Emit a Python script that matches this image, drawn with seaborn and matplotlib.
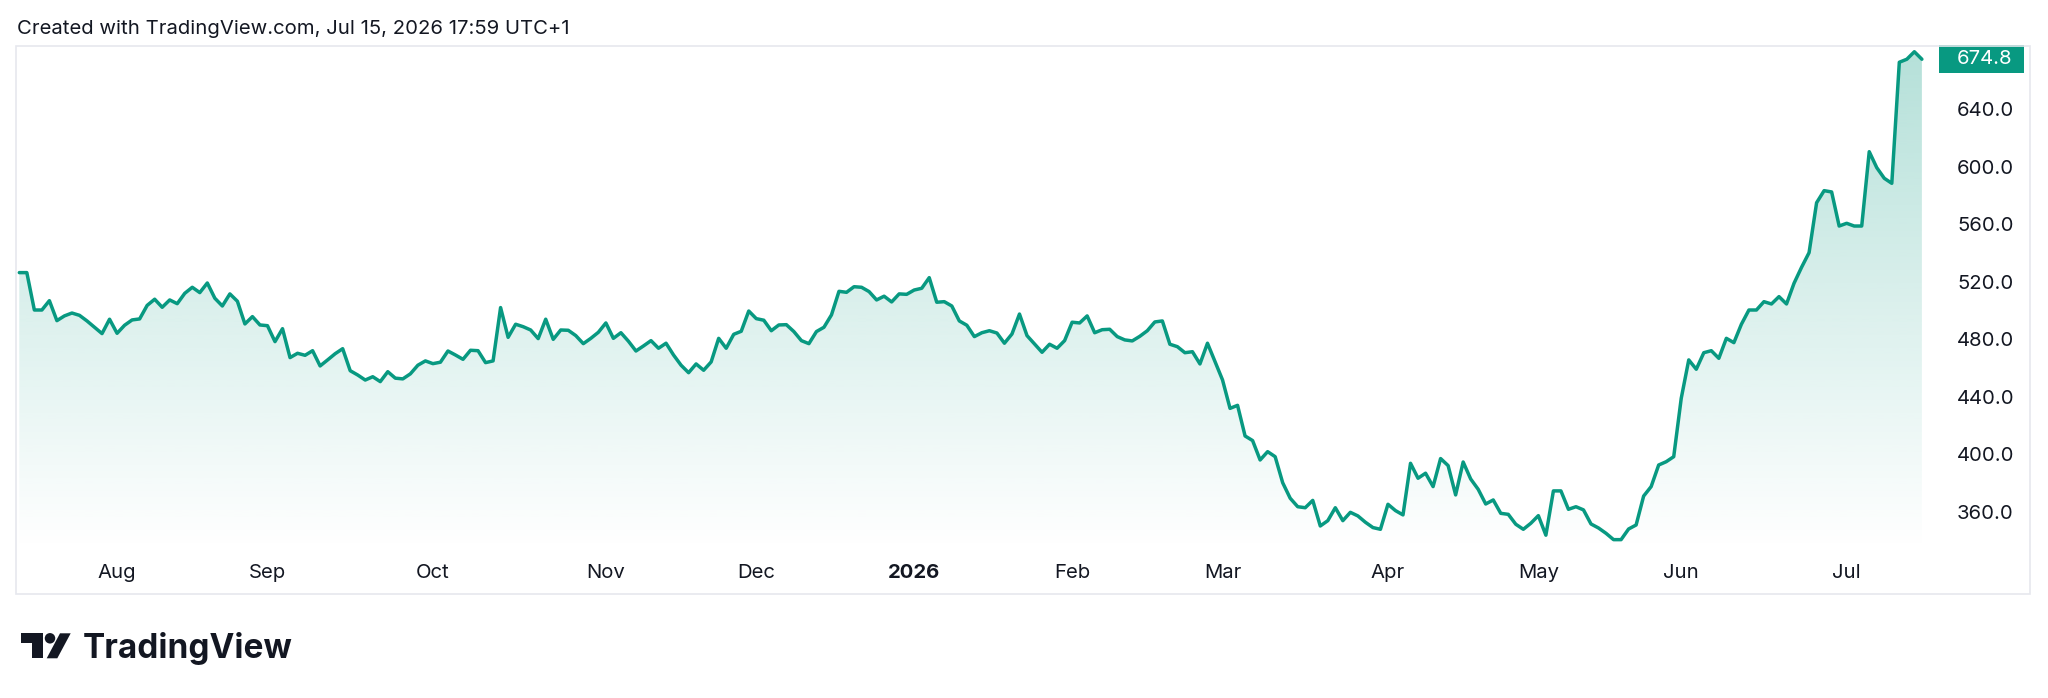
import numpy as np
import pandas as pd
import matplotlib
matplotlib.use("Agg")
import matplotlib.pyplot as plt
import matplotlib.transforms as mtransforms
from matplotlib.patches import Rectangle, Polygon
import seaborn as sns

# ---------------- data ----------------
start_date = "2025-07-15"
end_date = "2026-07-15"
market_holidays = ["2025-08-25", "2025-12-25", "2025-12-26", "2026-01-01",
                   "2026-04-03", "2026-04-06", "2026-05-04", "2026-05-25"]

close_jul_sep = [
    526.4, 526.4, 500.4, 500.4, 506.9, 493.0, 496.3, 498.3, 496.7, 492.8,
    488.4, 484.0, 494.0, 484.2, 489.8, 493.5, 494.2, 503.6, 507.9, 502.3,
    507.4, 504.8, 512.0, 516.2, 512.5, 519.2, 508.6, 503.2, 511.6, 506.5,
    490.7, 495.8, 490.0, 489.5, 478.4, 487.4, 467.3, 470.3, 468.9, 472.1,
    461.5, 465.7, 470.0, 473.5, 458.2, 455.2, 451.7, 454.0, 450.6, 457.5]
close_sep_dec = [
    453.0, 452.5, 456.0, 462.0,
    465.0, 463.1, 464.1, 471.9, 469.1, 466.1, 472.4, 472.1, 463.8, 465.0,
    502.1, 481.4, 490.5, 488.8, 486.5, 480.5, 494.0, 480.0, 486.5, 486.3,
    482.6, 477.0, 480.7, 484.9, 491.4, 480.7, 484.6, 478.7, 471.9, 475.4,
    479.1, 473.8, 477.3, 469.1, 462.0, 456.8, 462.9, 458.5, 464.3, 480.7,
    473.8, 483.5, 485.6, 499.7, 494.4, 493.3, 486.0, 490.0]
close_dec_feb = [
    490.2, 485.4, 479.1, 477.0, 485.4, 488.4, 497.0, 513.4, 512.7, 516.6,
    516.2, 513.2, 507.4, 510.0, 506.0, 511.6, 511.3, 514.3, 515.5, 522.9,
    505.8, 506.2, 503.2, 492.8, 489.8, 481.9, 484.6, 486.0, 484.4, 477.3,
    483.7, 497.6, 482.6, 476.8, 471.0, 476.6, 473.8, 479.1, 491.9, 491.4,
    496.3, 484.6, 486.7, 487.0, 481.9, 479.6, 478.9, 482.1, 486.0, 492.1]
close_feb_may = [
    492.8, 476.6, 474.9, 470.7, 471.4, 462.9, 477.3, 464.5, 451.8, 432.0,
    434.1, 412.8, 409.6, 396.1, 401.9, 398.4, 380.3, 369.5, 363.6, 362.9,
    368.0, 350.2, 353.9, 362.9, 353.9, 359.7, 357.2, 352.8, 349.1, 347.9,
    365.3, 360.9, 357.9, 393.8, 383.4, 386.9, 377.6, 397.1, 392.2, 371.8,
    394.7, 382.9, 375.7, 365.5, 368.3, 359.0, 358.3, 351.4, 347.9, 352.1,
    357.4, 343.8, 374.6, 374.6, 361.8, 363.6, 361.4, 351.6, 348.8, 345.1,
    340.7, 340.7]
close_may_jul = [
    348.1, 350.9, 371.0, 377.6, 392.6, 394.9, 398.4, 439.0, 465.7, 459.2,
    470.7, 472.1, 466.8, 480.7, 477.7, 490.5, 500.4, 500.4, 506.2, 504.6,
    509.7, 504.6, 519.0, 530.1, 540.3, 575.0, 583.4, 582.5, 558.8, 560.7,
    558.8, 558.8, 610.5, 599.4, 592.0, 588.5, 672.7, 674.8, 680.0, 674.8]

price_ticks = [360, 400, 440, 480, 520, 560, 600, 640]
header_text = "Created with TradingView.com, Jul 15, 2026 17:59 UTC+1"
brand_text = "TradingView"

# ---------------- build frame ----------------
close = np.array(close_jul_sep + close_sep_dec + close_dec_feb + close_feb_may + close_may_jul)
dates = pd.bdate_range(start_date, end_date)
dates = dates[~dates.isin(pd.to_datetime(market_holidays))]
n = len(close)
dates = dates[:n]
df = pd.DataFrame({"i": np.arange(n), "date": dates, "close": close})

month_start = df.index[df["date"].dt.month != df["date"].dt.month.shift(1)][1:]
month_labels = ["2026" if df.loc[k, "date"].month == 1 else df.loc[k, "date"].strftime("%b")
                for k in month_start]

# ---------------- style ----------------
sns.set_theme(style="white")
plt.rcParams["font.family"] = ["Inter", "DejaVu Sans"]

LINE = "#089981"
TXT = "#131722"
W, H = 2048, 698
pane_l, pane_t, pane_r, pane_b = 16, 46, 1930, 550
y_lo, y_hi = 333.5, 684.0

fig = plt.figure(figsize=(W / 100, H / 100), dpi=100)
fig.patch.set_facecolor("white")
ax = fig.add_axes([pane_l / W, 1 - pane_b / H, (pane_r - pane_l) / W, (pane_b - pane_t) / H])
ax.set_facecolor("white")

# gradient area under the line
verts = np.column_stack([np.r_[df["i"], df["i"][::-1]],
                         np.r_[df["close"], np.full(n, y_lo)]])
clip = Polygon(verts, closed=True, facecolor="none", edgecolor="none", transform=ax.transData)
ax.add_patch(clip)
rgb = matplotlib.colors.to_rgb(LINE)
grad = np.zeros((256, 1, 4))
grad[:, 0, :3] = rgb
grad[:, 0, 3] = np.linspace(0.0, 0.30, 256)
im = ax.imshow(grad, extent=[0, n - 1, y_lo, df["close"].max()], origin="lower",
               aspect="auto", zorder=1, interpolation="bilinear")
im.set_clip_path(clip)

sns.lineplot(data=df, x="i", y="close", ax=ax, color=LINE, linewidth=2.5, zorder=3)
ax.lines[-1].set_solid_joinstyle("round")

ax.set_xlim(-0.44, n - 1 + 1.08)
ax.set_ylim(y_lo, y_hi)
for s in ax.spines.values():
    s.set_visible(False)
ax.grid(False)
ax.set_xlabel("")
ax.set_ylabel("")

ax.yaxis.tick_right()
ax.set_yticks(price_ticks)
ax.set_yticklabels([f"{v:.1f}" for v in price_ticks])
ax.tick_params(axis="y", length=0, pad=19.4, labelsize=14.6, labelcolor=TXT)

ax.set_xticks(list(month_start))
ax.set_xticklabels(month_labels)
ax.tick_params(axis="x", length=0, pad=10, labelsize=14.6, labelcolor=TXT)
for lab in ax.get_xticklabels():
    if lab.get_text() == "2026":
        lab.set_fontweight("bold")

# last price label
last = df["close"].iloc[-1]
blend = mtransforms.blended_transform_factory(fig.transFigure, ax.transData)
box_h = 28 * (y_hi - y_lo) / (pane_b - pane_t)
fig.add_artist(Rectangle((1939 / W, last - box_h / 2), (2024 - 1939) / W, box_h,
                         transform=blend, facecolor=LINE, edgecolor="none"))
fig.text(1957 / W, last, f"{last:.1f}", transform=blend, color="white",
         fontsize=14.6, va="center", ha="left")

# outer frame
fig.add_artist(Rectangle((16 / W, 1 - 594 / H), (2030 - 16) / W, (594 - 46) / H,
                         transform=fig.transFigure, fill=False, edgecolor="#e6e8ee", lw=1.2))

# header
fig.text(17 / W, 1 - 34 / H, header_text, fontsize=14.6, color=TXT, va="baseline", ha="left")

# brand logo
def px(x, y):
    return (x / W, 1 - y / H)

logo_kw = dict(transform=fig.transFigure, facecolor=TXT, edgecolor="none")
fig.add_artist(Rectangle(px(20.7, 643.3), 22 / W, 10 / H, **logo_kw))
fig.add_artist(Rectangle(px(31.7, 658.3), 11 / W, 25 / H, **logo_kw))
fig.add_artist(Polygon([px(46.7, 658.3), px(57.3, 658.3), px(70.7, 633.3), px(60.0, 633.3)],
                       closed=True, **logo_kw))
fig.add_artist(matplotlib.patches.Ellipse(px(50.0, 638.3), 10.5 / W, 10.5 / H, **logo_kw))
fig.text(83 / W, 1 - 658 / H, brand_text, fontsize=24, fontweight="bold", color=TXT,
         va="baseline", ha="left")

fig.savefig("out.png", dpi=100, facecolor="white")
